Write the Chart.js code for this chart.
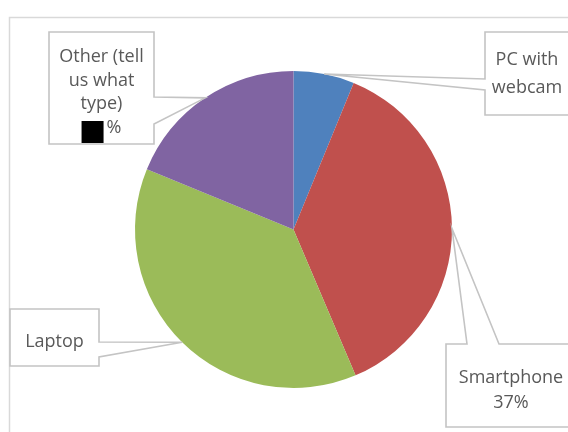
<!DOCTYPE html>
<html>
<head>
<meta charset="utf-8">
<script src="https://cdn.jsdelivr.net/npm/chart.js@4/dist/chart.umd.min.js"></script>
<style>
  html, body { margin: 0; padding: 0; background: #ffffff; }
  canvas { display: block; }
</style>
</head>
<body>
<canvas id="chart" width="568" height="432"></canvas>
<script>
// Device types used for the call (percent of respondents)
const categories = ['PC with webcam', 'Smartphone', 'Laptop', 'Other (tell us what type)'];
const shares = [6.2, 37.4, 37.6, 18.8];
const sliceColors = ['#4F81BD', '#C0504D', '#9BBB59', '#8064A2'];

// Text shown inside each callout; '{pct}' is replaced by the slice's rounded share,
// '{hidden}' marks a value that is blacked out.
const calloutText = [
  ['PC with', 'webcam'],
  ['Smartphone', '{pct}%'],
  ['Laptop'],
  ['Other (tell', 'us what', 'type)', '{hidden}%']
];

// Callout boxes: rectangle [x1, y1, x2, y2], the side the pointer leaves from,
// the two points where the pointer meets that side, first text baseline and line step.
const calloutBoxes = [
  { rect: [485, 32, 569, 115], side: 'left',  base: [79, 90],   firstBaseline: 65,    lineStep: 27.5 },
  { rect: [446, 344, 576, 427], side: 'top',  base: [467, 499], firstBaseline: 383,   lineStep: 25 },
  { rect: [10, 309, 99, 366],   side: 'right', base: [342, 357], firstBaseline: 346.5, lineStep: 25 },
  { rect: [49, 32, 154, 144],   side: 'right', base: [97, 124],  firstBaseline: 62,    lineStep: 23.5 }
];

const FONT = '18px "Open Sans", Lato, sans-serif';
const TEXT_COLOR = '#595959';
const LINE_COLOR = '#c4c4c4';

function calloutPath(ctx, box, tip) {
  const [x1, y1, x2, y2] = box.rect;
  const [b1, b2] = box.base;
  ctx.beginPath();
  ctx.moveTo(x1, y1);
  if (box.side === 'top') { ctx.lineTo(b1, y1); ctx.lineTo(tip.x, tip.y); ctx.lineTo(b2, y1); }
  ctx.lineTo(x2, y1);
  if (box.side === 'right') { ctx.lineTo(x2, b1); ctx.lineTo(tip.x, tip.y); ctx.lineTo(x2, b2); }
  ctx.lineTo(x2, y2);
  ctx.lineTo(x1, y2);
  if (box.side === 'left') { ctx.lineTo(x1, b2); ctx.lineTo(tip.x, tip.y); ctx.lineTo(x1, b1); }
  ctx.closePath();
}

const frame = {
  id: 'frame',
  beforeDraw(chart) {
    const ctx = chart.ctx;
    ctx.save();
    ctx.fillStyle = '#ffffff';
    ctx.fillRect(0, 0, chart.width, chart.height);
    ctx.strokeStyle = '#d9d9d9';
    ctx.lineWidth = 1.5;
    ctx.beginPath();
    ctx.moveTo(9.5, chart.height + 2);
    ctx.lineTo(9.5, 17.5);
    ctx.lineTo(chart.width + 2, 17.5);
    ctx.stroke();
    ctx.restore();
  }
};

const callouts = {
  id: 'callouts',
  afterDatasetsDraw(chart) {
    const ctx = chart.ctx;
    const meta = chart.getDatasetMeta(0);
    const data = chart.data.datasets[0].data;
    const total = data.reduce((a, b) => a + b, 0);
    ctx.save();
    meta.data.forEach((arc, i) => {
      const p = arc.getProps(['x', 'y', 'startAngle', 'endAngle', 'outerRadius'], true);
      const mid = (p.startAngle + p.endAngle) / 2;
      const tip = { x: p.x + Math.cos(mid) * p.outerRadius, y: p.y + Math.sin(mid) * p.outerRadius };
      const box = calloutBoxes[i];
      calloutPath(ctx, box, tip);
      ctx.fillStyle = '#ffffff';
      ctx.fill();
      ctx.strokeStyle = LINE_COLOR;
      ctx.lineWidth = 1.6;
      ctx.lineJoin = 'miter';
      ctx.stroke();

      const lines = calloutText[i];
      const [x1, , x2] = box.rect;
      const cx = (x1 + x2) / 2;
      ctx.font = FONT;
      ctx.fillStyle = TEXT_COLOR;
      ctx.textBaseline = 'alphabetic';
      lines.forEach((raw, k) => {
        const y = box.firstBaseline + k * box.lineStep;
        if (raw.includes('{hidden}')) {
          const rest = raw.replace('{hidden}', '');
          const w = ctx.measureText(rest).width;
          const sq = 22, gap = 3;
          const left = cx - (sq + gap + w) / 2;
          ctx.fillStyle = '#000000';
          ctx.fillRect(left, y - 11.5, sq, sq);
          ctx.fillStyle = TEXT_COLOR;
          ctx.textAlign = 'left';
          ctx.fillText(rest, left + sq + gap, y);
        } else {
          const txt = raw.replace('{pct}', Math.round(data[i] / total * 100));
          ctx.textAlign = 'center';
          ctx.fillText(txt, cx, y);
        }
      });
    });
    ctx.restore();
  }
};

new Chart(document.getElementById('chart'), {
  type: 'pie',
  data: {
    labels: categories,
    datasets: [{
      data: shares,
      backgroundColor: sliceColors,
      borderWidth: 0,
      hoverOffset: 0
    }]
  },
  options: {
    responsive: false,
    animation: false,
    layout: { padding: { left: 135, right: 116, top: 71, bottom: 44 } },
    plugins: {
      legend: { display: false },
      tooltip: { enabled: false }
    }
  },
  plugins: [frame, callouts]
});
</script>
</body>
</html>
